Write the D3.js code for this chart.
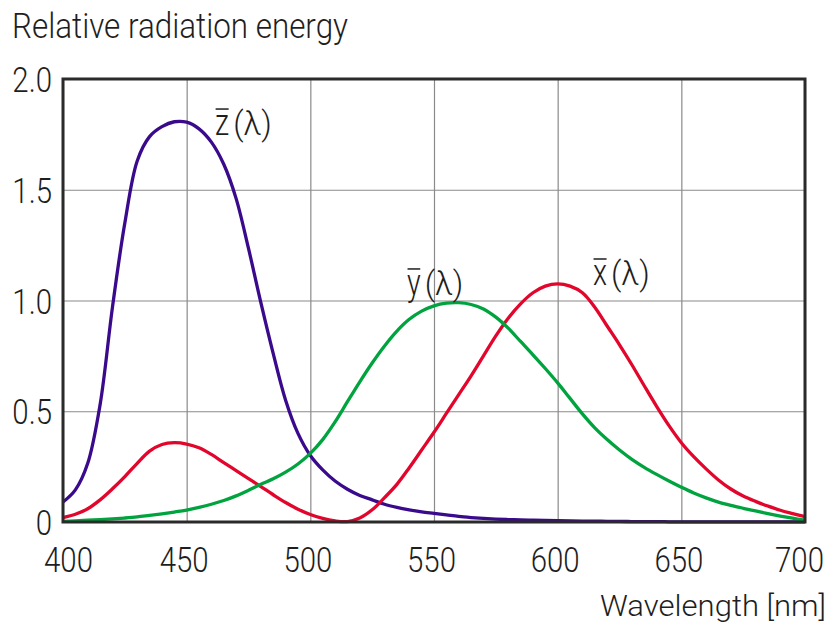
<!DOCTYPE html>
<html><head><meta charset="utf-8">
<script src="https://cdn.jsdelivr.net/npm/d3@7"></script>
<style>
html,body{margin:0;padding:0;background:#fff;}
svg text{font-family:Roboto,"Liberation Sans",sans-serif;font-weight:300;fill:#1e1e1e;}
</style></head><body>
<svg id="c" width="832" height="627"></svg>
<script>
const wavelengths = d3.range(400, 701, 5);
const xTicks = [400, 450, 500, 550, 600, 650, 700];
const yTicks = [0, 0.5, 1.0, 1.5, 2.0];
const yTickLabels = ["0", "0.5", "1.0", "1.5", "2.0"];
const seriesNames = ["z", "y", "x"];
const zBar = [0.09,0.145,0.265,0.53,0.97,1.35,1.63,1.74,1.785,1.807,1.805,1.775,1.715,1.615,1.46,1.235,0.99,0.76,0.55,0.40,
  0.30,0.235,0.185,0.148,0.12,0.10,0.08,0.066,0.055,0.046,0.039,0.032,0.025,0.02,0.016,0.013,0.011,0.009,0.008,0.007,
  0.006,0.005,0.004,0.004,0.003,0.003,0.002,0.002,0.002,0.001,0.001,0.001,0.001,0.001,0.001,0.001,0.001,0.001,0.001,0.001,0.001];
const yBar = [0.003,0.005,0.008,0.011,0.014,0.018,0.023,0.03,0.037,0.045,0.054,0.066,0.08,0.097,0.118,0.143,0.17,0.195,0.225,0.262,
  0.31,0.372,0.452,0.543,0.633,0.718,0.795,0.862,0.915,0.952,0.976,0.988,0.99,0.982,0.962,0.925,0.875,0.815,0.755,0.693,
  0.628,0.558,0.488,0.425,0.372,0.325,0.283,0.247,0.215,0.185,0.157,0.131,0.109,0.09,0.075,0.062,0.05,0.038,0.027,0.017,0.008];
const xBar = [0.02,0.035,0.06,0.10,0.15,0.205,0.265,0.32,0.35,0.358,0.352,0.335,0.305,0.268,0.232,0.196,0.16,0.123,0.088,0.058,
  0.034,0.016,0.005,0.002,0.018,0.055,0.11,0.17,0.245,0.325,0.405,0.49,0.575,0.66,0.75,0.84,0.92,0.985,1.035,1.065,
  1.075,1.065,1.035,0.97,0.885,0.80,0.71,0.615,0.522,0.435,0.358,0.295,0.24,0.19,0.149,0.117,0.093,0.072,0.053,0.038,0.024];

const svg = d3.select("#c");
const x = d3.scaleLinear().domain([400, 700]).range([63, 805]);
const y = d3.scaleLinear().domain([0, 2]).range([522, 79]);
const FS = 35;

function condense(sel, k) {
  sel.each(function () {
    const w = this.getComputedTextLength();
    d3.select(this).attr("textLength", w * k).attr("lengthAdjust", "spacingAndGlyphs");
  });
}
function fitTo(sel, target) {
  sel.attr("textLength", target).attr("lengthAdjust", "spacingAndGlyphs");
}

// gridlines
svg.append("g").attr("transform", `translate(0,${y(0)})`)
  .call(d3.axisBottom(x).tickValues(xTicks).tickSize(-(y(0) - y(2))).tickFormat(""))
  .call(g => g.select(".domain").remove())
  .call(g => g.selectAll("line").attr("stroke", "#8a8a8a").attr("stroke-width", 1.2));
svg.append("g").attr("transform", `translate(${x(400)},0)`)
  .call(d3.axisLeft(y).tickValues(yTicks).tickSize(-(x(700) - x(400))).tickFormat(""))
  .call(g => g.select(".domain").remove())
  .call(g => g.selectAll("line").attr("stroke", "#8a8a8a").attr("stroke-width", 1.2));

// curves
const series = [
  {name: "z", vals: zBar, color: "#3a0a8c"},
  {name: "x", vals: xBar, color: "#e2062c"},
  {name: "y", vals: yBar, color: "#00a33e"}
];
const line = d3.line().x((d, i) => x(wavelengths[i])).y(d => y(Math.max(0, d))).curve(d3.curveCatmullRom.alpha(0.5));
svg.append("g").selectAll("path").data(series).join("path")
  .attr("d", d => line(d.vals)).attr("fill", "none")
  .attr("stroke", d => d.color).attr("stroke-width", 3.3)
  .attr("stroke-linejoin", "round");

// frame
svg.append("rect").attr("x", x(400)).attr("y", y(2)).attr("width", x(700) - x(400)).attr("height", y(0) - y(2))
  .attr("fill", "none").attr("stroke", "#2a2a2a").attr("stroke-width", 3);

// x tick labels
const xa = svg.append("g").attr("transform", `translate(0,${y(0)})`)
  .call(d3.axisBottom(x).tickValues(xTicks).tickSize(0).tickFormat(d3.format("d")));
xa.select(".domain").remove();
xa.selectAll("text").attr("y", 50).attr("dy", 0)
  .attr("dx", (d, i) => i === 0 ? 5 : (i === xTicks.length - 1 ? -6 : -3))
  .attr("font-size", FS).attr("fill", "#1e1e1e").attr("font-family", null);
condense(xa.selectAll("text"), 0.84);

// y tick labels
const ya = svg.append("g").attr("transform", `translate(52,0)`)
  .call(d3.axisLeft(y).tickValues(yTicks).tickSize(0).tickPadding(0).tickFormat((d, i) => yTickLabels[i]));
ya.select(".domain").remove();
ya.selectAll("text").attr("dy", "0.36em").attr("font-size", FS).attr("fill", "#1e1e1e").attr("font-family", null);
condense(ya.selectAll("text"), 0.84);

// titles
fitTo(svg.append("text").attr("x", 12).attr("y", 38).attr("font-size", FS).text("Relative radiation energy"), 336);
fitTo(svg.append("text").attr("x", 600).attr("y", 616).attr("font-size", 29).text("Wavelength [nm]"), 226);

// curve labels
const labels = [
  {name: seriesNames[0], lx: 461.5, ly: 1.747},
  {name: seriesNames[1], lx: 539.1, ly: 1.025},
  {name: seriesNames[2], lx: 614.3, ly: 1.07}
];
labels.forEach(l => {
  const g = svg.append("g");
  const px = x(l.lx), py = y(l.ly);
  const t = g.append("text").attr("x", px).attr("y", py).attr("font-size", 36).text(l.name);
  const w = t.node().getComputedTextLength() * 0.8;
  t.attr("textLength", w).attr("lengthAdjust", "spacingAndGlyphs");
  g.append("line").attr("x1", px + 0.5).attr("x2", px + w - 0.5)
    .attr("y1", py - 26).attr("y2", py - 26).attr("stroke", "#1e1e1e").attr("stroke-width", 1.5);
  const p = g.append("text").attr("x", px + w + 4).attr("y", py).attr("font-size", 34).text("(λ)");
  condense(p, 0.95);
});
</script>
</body></html>
